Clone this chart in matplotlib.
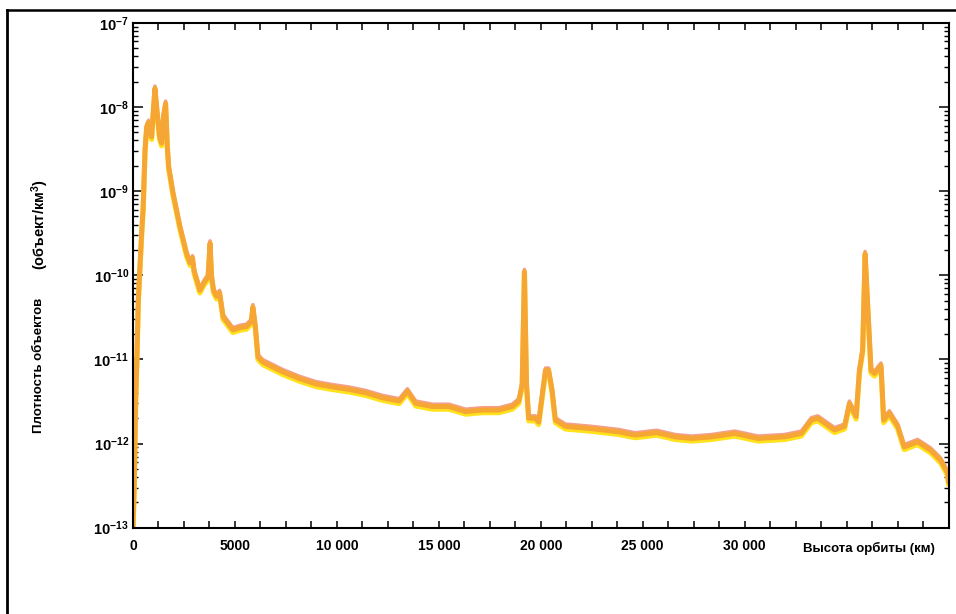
import math
import matplotlib
matplotlib.use("Agg")
import matplotlib.pyplot as plt
from matplotlib import transforms
from matplotlib.ticker import FixedLocator, FuncFormatter, NullFormatter
from matplotlib.lines import Line2D

plt.rcParams["font.family"] = ["Liberation Sans", "DejaVu Sans"]
plt.rcParams["mathtext.fontset"] = "custom"
plt.rcParams["mathtext.rm"] = "Liberation Sans:bold"
plt.rcParams["mathtext.bf"] = "Liberation Sans:bold"
plt.rcParams["mathtext.default"] = "rm"

# Orbital altitude (km) and spatial density of objects (objects / km^3)
altitude_km = [
    0, 60, 130, 200, 260, 340, 425, 500, 590, 670, 760, 914, 980, 1076, 1180,
    1300, 1400, 1500, 1600, 1680, 1750, 1970, 2300, 2630, 2800, 2920, 3000,
    3280, 3500, 3680, 3780, 3850, 3950, 4100, 4250, 4420, 4900, 5300, 5560,
    5800, 5880, 6000, 6130, 6370, 7350, 8170, 8980, 9800, 10610, 11430, 12240,
    13060, 13460, 13870, 14690, 15500, 16320, 17130, 17950, 18600, 18920,
    19090, 19200, 19300, 19410, 19740, 19900, 20060, 20230, 20390, 20550,
    20720, 21210, 22510, 23810, 24630, 25690, 26590, 27400, 28380, 29520,
    30660, 31960, 32780, 33270, 33590, 34410, 34900, 35140, 35470, 35630,
    35790, 35910, 36040, 36200, 36370, 36690, 36820, 37100, 37510, 37830,
    38480, 39130, 39620, 39950, 40000,
]
density = [
    1.0e-13, 3.2e-13, 3.2e-12, 1.26e-11, 5.0e-11, 1.26e-10, 3.2e-10, 6.5e-10,
    3.1e-9, 5.8e-9, 6.5e-9, 4.4e-9, 7.9e-9, 1.66e-8, 8.9e-9,
    4.5e-9, 3.7e-9, 7.9e-9, 1.1e-8, 3.5e-9, 1.95e-9, 9.3e-10, 3.8e-10,
    1.8e-10, 1.4e-10, 1.6e-10, 1.12e-10,
    6.6e-11, 8.3e-11, 9.5e-11, 2.4e-10, 1.0e-10, 6.6e-11, 5.6e-11, 6.2e-11,
    3.2e-11, 2.24e-11, 2.4e-11, 2.45e-11,
    2.8e-11, 4.2e-11, 2.5e-11, 1.07e-11, 9.3e-12, 7.1e-12, 5.9e-12, 5.1e-12,
    4.7e-12, 4.4e-12, 4.0e-12, 3.5e-12,
    3.2e-12, 4.2e-12, 3.0e-12, 2.75e-12, 2.75e-12, 2.4e-12, 2.5e-12, 2.5e-12,
    2.75e-12, 3.2e-12,
    5.1e-12, 1.1e-10, 5.1e-12, 2.0e-12, 2.0e-12, 1.8e-12, 3.6e-12, 7.4e-12,
    7.4e-12, 4.4e-12,
    1.9e-12, 1.6e-12, 1.5e-12, 1.38e-12, 1.26e-12, 1.35e-12, 1.2e-12, 1.15e-12,
    1.2e-12, 1.32e-12,
    1.15e-12, 1.2e-12, 1.32e-12, 1.9e-12, 2.0e-12, 1.45e-12, 1.6e-12, 3.0e-12,
    2.1e-12, 7.4e-12,
    1.3e-11, 1.8e-10, 4.2e-11, 7.4e-12, 6.8e-12, 8.5e-12, 1.9e-12, 2.3e-12,
    1.6e-12, 9.1e-13,
    1.05e-12, 8.3e-13, 6.3e-13, 4.5e-13, 3.5e-13,
]

x_tick_step = 1250
x_labels = {0: "0", 5000: "5000", 10000: "10 000", 15000: "15 000",
            20000: "20 000", 25000: "25 000", 30000: "30 000"}
y_decades = [1e-13, 1e-12, 1e-11, 1e-10, 1e-9, 1e-8, 1e-7]
y_label_main = "Плотность объектов"
y_label_unit = "(объект/км$^{\\mathregular{3}}$)"
x_label = "Высота орбиты (км)"

fig = plt.figure(figsize=(9.56, 6.14), dpi=100)
fig.patch.set_facecolor("white")
ax = fig.add_axes([133 / 956, 1 - 527.7 / 614, (948.5 - 133) / 956, 505 / 614])

# Printed-band look: yellow under-edge, pinkish upper edge, orange core
px = 0.72
yellow_tr = transforms.offset_copy(ax.transData, fig=fig, x=0, y=-2.6 * px, units="points")
pink_tr = transforms.offset_copy(ax.transData, fig=fig, x=0, y=2.4 * px, units="points")
ax.plot(altitude_km, density, color="#FFE21C", lw=5.2 * px, transform=yellow_tr,
        solid_joinstyle="round", solid_capstyle="round")
ax.plot(altitude_km, density, color="#F3A08E", lw=3.4 * px, transform=pink_tr,
        solid_joinstyle="round", solid_capstyle="round")
ax.plot(altitude_km, density, color="#F5A634", lw=5.0 * px,
        solid_joinstyle="round", solid_capstyle="round")

ax.set_yscale("log")
ax.set_xlim(0, 40000)
ax.set_ylim(1e-13, 1e-7)

for side in ax.spines.values():
    side.set_linewidth(1.5)
    side.set_color("black")

minor_y = [m * d for d in y_decades[:-1] for m in range(2, 10)]
ax.xaxis.set_major_locator(FixedLocator(list(range(0, 40001, x_tick_step))))
ax.xaxis.set_major_formatter(FuncFormatter(lambda v, pos: x_labels.get(int(round(v)), "")))
ax.yaxis.set_major_locator(FixedLocator(y_decades))
ax.yaxis.set_minor_locator(FixedLocator(minor_y))
ax.yaxis.set_minor_formatter(NullFormatter())
ax.yaxis.set_major_formatter(FuncFormatter(
    lambda v, pos: "$10^{%d}$" % round(math.log10(v))))

ax.tick_params(axis="x", which="major", direction="in", top=True, bottom=True,
               length=5, width=1.1, pad=8, labelsize=10)
ax.tick_params(axis="y", which="major", direction="in", left=True, right=True,
               length=7, width=1.1, pad=3, labelsize=10.5)
ax.tick_params(axis="y", which="minor", direction="in", left=True, right=True,
               length=3.6, width=1.0)
for lab in ax.get_xticklabels():
    lab.set_fontweight("bold")

ax.text((803 - 133) / 815.5, -0.041, x_label, transform=ax.transAxes,
        ha="left", va="center", fontsize=9.5, fontweight="bold")

fig.text(39 / 956, 1 - 365 / 614, y_label_main, rotation=90, ha="center",
         va="center", fontsize=9.5, fontweight="bold")
fig.text(40 / 956, 1 - 225 / 614, y_label_unit, rotation=90, ha="center",
         va="center", fontsize=10.5, fontweight="bold")

# Outer frame (top and left edges)
fig.add_artist(Line2D([7 / 956, 7 / 956], [0, 1 - 10 / 614], transform=fig.transFigure,
                      color="black", lw=2.0))
fig.add_artist(Line2D([7 / 956, 1], [1 - 10 / 614, 1 - 10 / 614], transform=fig.transFigure,
                      color="black", lw=1.8))

fig.savefig("out.png", dpi=100, facecolor="white")
